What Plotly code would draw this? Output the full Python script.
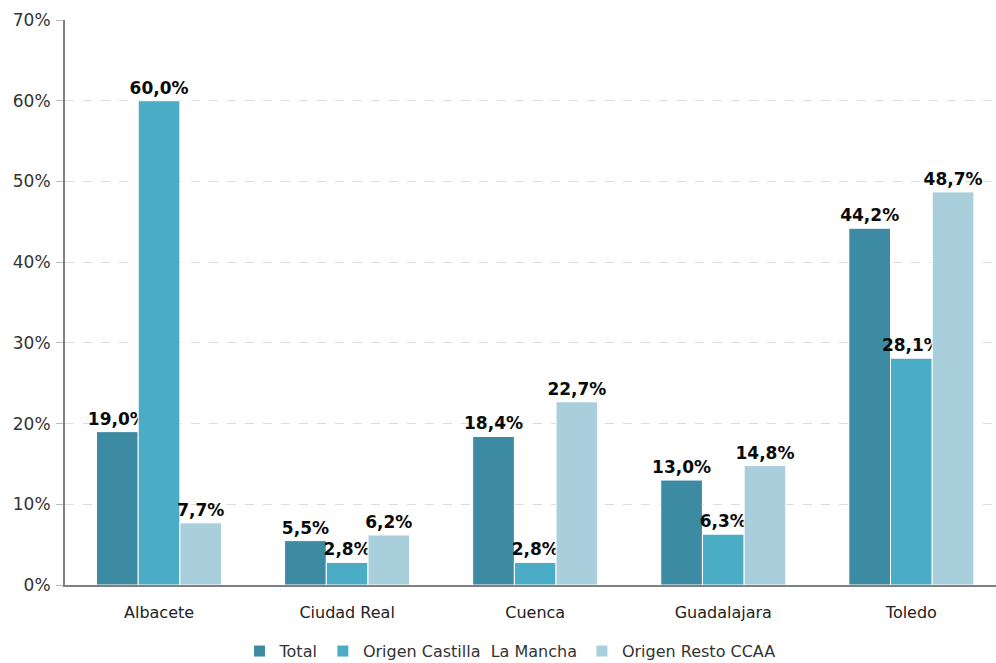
import plotly.graph_objects as go

provincias = ["Albacete", "Ciudad Real", "Cuenca", "Guadalajara", "Toledo"]
total = [19.0, 5.5, 18.4, 13.0, 44.2]
origen_clm = [60.0, 2.8, 2.8, 6.3, 28.1]
origen_resto = [7.7, 6.2, 22.7, 14.8, 48.7]

series = [
    ("Total", total, "#3d8ba3"),
    ("Origen Castilla  La Mancha", origen_clm, "#4bacc6"),
    ("Origen Resto CCAA", origen_resto, "#a9cfdc"),
]

fig = go.Figure()
for name, vals, color in series:
    fig.add_trace(go.Bar(
        x=provincias, y=vals, name=name,
        marker=dict(color=color, line=dict(color="white", width=1)),
        texttemplate="%{y:.1f}%", textposition="outside",
        textfont=dict(family="DejaVu Sans", size=17, color="#0a0a0a", weight="bold"),
        cliponaxis=False,
    ))

fig.update_layout(
    width=996, height=663,
    margin=dict(l=65, r=0, t=20, b=78, autoexpand=False),
    barmode="group", bargap=0.335, bargroupgap=0,
    separators=",.",
    uniformtext=dict(minsize=17, mode="show"),
    plot_bgcolor="white", paper_bgcolor="white",
    font=dict(family="DejaVu Sans", size=16, color="#333333"),
    showlegend=True,
    legend=dict(orientation="h", x=0.478, xanchor="center",
                y=-0.087, yanchor="top",
                font=dict(family="DejaVu Sans", size=16, color="#333333"),
                traceorder="normal", itemwidth=30),
)
fig.update_xaxes(
    range=[-0.5, 4.45], showline=True, linecolor="#808080", linewidth=2,
    ticks="", tickfont=dict(size=16, color="#222222"), showgrid=False,
    ticklabelstandoff=12,
)
fig.update_yaxes(
    range=[0, 70], dtick=10, ticksuffix="%", showline=True, linecolor="#808080",
    linewidth=2, ticks="outside", ticklen=7, tickcolor="#bbbbbb",
    showgrid=True, gridcolor="#dddddd", griddash="dash", gridwidth=1,
    zeroline=False, tickfont=dict(size=17, color="#333333"),
    ticklabelstandoff=2,
)

fig.write_html("out.html")
